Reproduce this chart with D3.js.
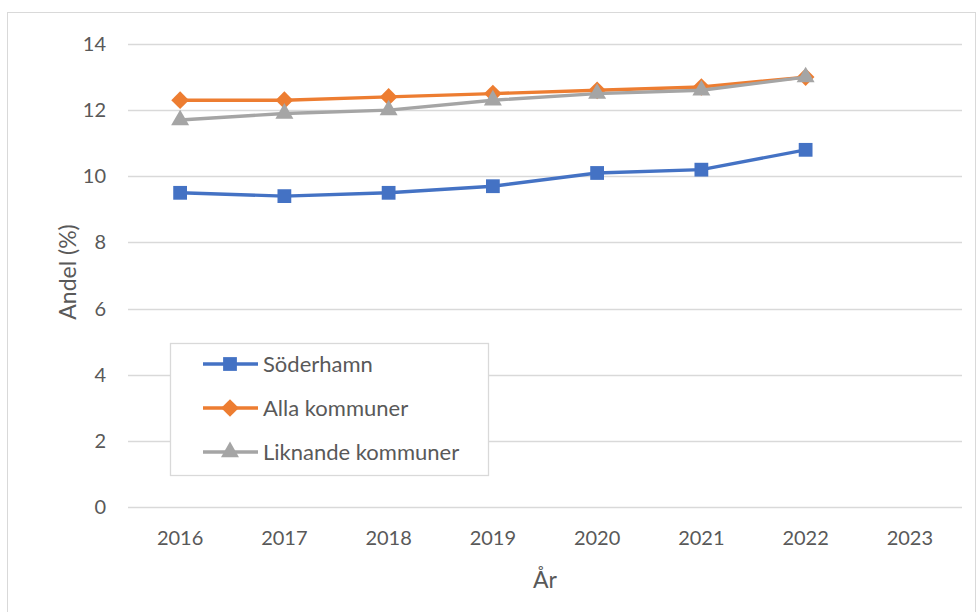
<!DOCTYPE html>
<html lang="sv">
<head>
<meta charset="utf-8">
<title>Andel</title>
<script src="https://d3js.org/d3.v7.min.js"></script>
<style>
  body { margin: 0; background: #fff; }
  svg text { font-family: Lato, "Open Sans", sans-serif; fill: #595959; }
</style>
</head>
<body>
<script>
// data
const years = ["2016", "2017", "2018", "2019", "2020", "2021", "2022", "2023"];
const soderhamn = [9.5, 9.4, 9.5, 9.7, 10.1, 10.2, 10.8];
const alla = [12.3, 12.3, 12.4, 12.5, 12.6, 12.7, 13.0];
const liknande = [11.7, 11.9, 12.0, 12.3, 12.5, 12.6, 13.0];
const yTicks = [0, 2, 4, 6, 8, 10, 12, 14];

const series = [
  { name: "Söderhamn", values: soderhamn, color: "#4472C4", marker: d3.symbolSquare, size: 190 },
  { name: "Alla kommuner", values: alla, color: "#ED7D31", marker: d3.symbolDiamond2, size: 200 },
  { name: "Liknande kommuner", values: liknande, color: "#A5A5A5", marker: d3.symbolTriangle, size: 140 }
];

const w = 978, h = 612;
const svg = d3.select("body").append("svg").attr("width", w).attr("height", h);

// chart border
svg.append("rect").attr("x", 7.5).attr("y", 12.5).attr("width", w - 10).attr("height", h)
  .attr("fill", "none").attr("stroke", "#d9d9d9");

const x = d3.scaleBand().domain(years).range([128, 962]);
const y = d3.scaleLinear().domain([0, 14]).range([507, 44]);

// gridlines
svg.append("g").selectAll("line").data(yTicks).join("line")
  .attr("x1", 128).attr("x2", 962)
  .attr("y1", d => Math.round(y(d)) + 0.5).attr("y2", d => Math.round(y(d)) + 0.5)
  .attr("stroke", "#d9d9d9").attr("stroke-width", 1.3);

// y tick labels
svg.append("g").selectAll("text").data(yTicks).join("text")
  .attr("x", 106).attr("y", d => y(d)).attr("dy", "0.35em")
  .attr("text-anchor", "end").attr("font-size", 20).text(d => d);

// x tick labels
svg.append("g").selectAll("text").data(years).join("text")
  .attr("x", d => x(d) + x.bandwidth() / 2).attr("y", 545)
  .attr("text-anchor", "middle").attr("font-size", 20).text(d => d);

// axis titles
svg.append("text").attr("x", 545).attr("y", 588).attr("text-anchor", "middle")
  .attr("font-size", 23).text("År");
svg.append("text").attr("transform", "translate(68,272) rotate(-90)")
  .attr("text-anchor", "middle").attr("dy", "0.35em").attr("font-size", 23).text("Andel (%)");

const line = d3.line().x((d, i) => x(years[i]) + x.bandwidth() / 2).y(d => y(d));

series.forEach(s => {
  const g = svg.append("g");
  g.append("path").attr("d", line(s.values)).attr("fill", "none")
    .attr("stroke", s.color).attr("stroke-width", 3.4).attr("stroke-linejoin", "round");
  g.selectAll("path.m").data(s.values).join("path").attr("class", "m")
    .attr("transform", (d, i) => `translate(${x(years[i]) + x.bandwidth() / 2},${y(d)})`)
    .attr("d", d3.symbol().type(s.marker).size(s.size)).attr("fill", s.color);
});

// legend
const lg = svg.append("g");
lg.append("rect").attr("x", 170.5).attr("y", 343.5).attr("width", 318).attr("height", 132)
  .attr("fill", "#fff").attr("stroke", "#d9d9d9").attr("stroke-width", 1.3);
series.forEach((s, i) => {
  const ly = 364 + i * 44;
  lg.append("line").attr("x1", 203).attr("x2", 258).attr("y1", ly).attr("y2", ly)
    .attr("stroke", s.color).attr("stroke-width", 3.4);
  lg.append("path").attr("transform", `translate(230,${ly})`)
    .attr("d", d3.symbol().type(s.marker).size(s.size)).attr("fill", s.color);
  lg.append("text").attr("x", 263).attr("y", ly).attr("dy", "0.35em")
    .attr("font-size", 22).text(s.name);
});
</script>
</body>
</html>
